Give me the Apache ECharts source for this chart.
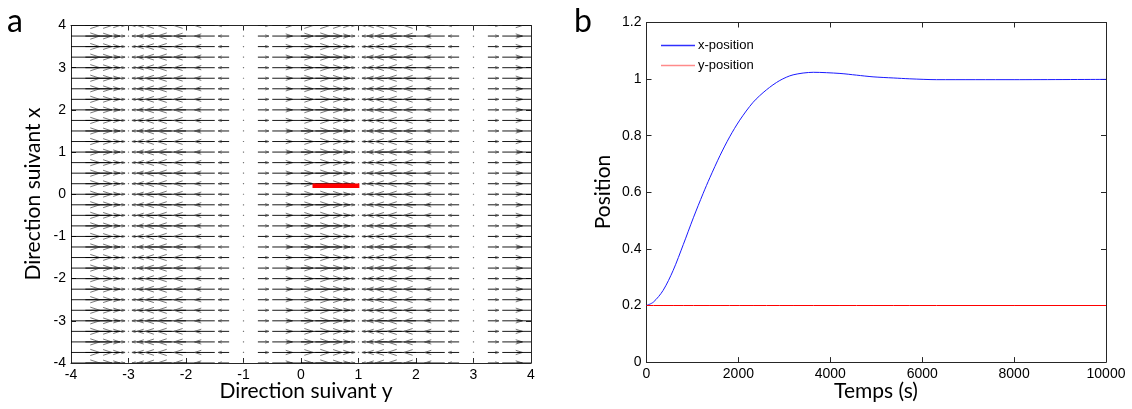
<!DOCTYPE html>
<html>
<head>
<meta charset="utf-8">
<script src="https://cdn.jsdelivr.net/npm/echarts@6/dist/echarts.min.js"></script>
<style>
html,body{margin:0;padding:0;background:#fff;}
#c{width:1132px;height:409px;}
</style>
</head>
<body>
<div id="c"></div>
<script>
// ---- Panel a: vector field (quiver), tails on a regular grid ----
const quiverColX = [-4,-3.75,-3.5,-3.25,-3,-2.75,-2.5,-2.25,-2,-1.75,-1.5,-1.25,-1,-0.75,-0.5,-0.25,0,0.25,0.5,0.75,1,1.25,1.5,1.75,2,2.25,2.5,2.75,3,3.25,3.5,3.75,4];
const quiverRowY = [-4,-3.75,-3.5,-3.25,-3,-2.75,-2.5,-2.25,-2,-1.75,-1.5,-1.25,-1,-0.75,-0.5,-0.25,0,0.25,0.5,0.75,1,1.25,1.5,1.75,2,2.25,2.5,2.75,3,3.25,3.5,3.75,4];
// horizontal component of each arrow, per column
const quiverU = [0.50,0.46,0.35,0.19,0,-0.19,-0.35,-0.46,-0.50,-0.46,-0.35,-0.19,0,0.19,0.35,0.46,0.50,0.46,0.35,0.19,0,-0.19,-0.35,-0.46,-0.50,-0.46,-0.35,-0.19,0,0.19,0.35,0.46,0.50];
// vertical component (all rows are horizontal arrows)
const quiverV = 0;

// ---- Panel b: position vs time ----
const timeS     = [0, 150, 360, 580, 800, 1020, 1230, 1380, 1600, 1810, 2030, 2320, 2610, 2900, 3190, 3630, 4210, 4570, 4930, 5370, 5730, 6310, 8000, 10000];
const xPosition = [0.2, 0.212, 0.253, 0.324, 0.415, 0.51, 0.595, 0.652, 0.73, 0.796, 0.855, 0.918, 0.962, 0.995, 1.015, 1.024, 1.020, 1.014, 1.008, 1.004, 1.001, 0.998, 0.998, 0.999];
const yPosition = [0.2, 0.2, 0.2, 0.2, 0.2, 0.2, 0.2, 0.2, 0.2, 0.2, 0.2, 0.2, 0.2, 0.2, 0.2, 0.2, 0.2, 0.2, 0.2, 0.2, 0.2, 0.2, 0.2, 0.2];

// tick labels
const ticksA = [-4,-3,-2,-1,0,1,2,3,4];
const ticksTime = [0,2000,4000,6000,8000,10000];
const ticksPos = [0,0.2,0.4,0.6,0.8,1,1.2];

const seriesNames = ['x-position','y-position'];

// ---- build quiver table ----
const quiverData = [];
quiverRowY.forEach(function (y) {
  quiverColX.forEach(function (x, j) {
    quiverData.push([x, y, quiverU[j], quiverV]);
  });
});

const chart = echarts.init(document.getElementById('c'), null, {renderer: 'canvas'});

const tickFont = {fontFamily: 'Liberation Sans, Arial, sans-serif', fontSize: 14, color: '#000'};
const axLine = {show: true, onZero: false, lineStyle: {color: '#262626', width: 1}};
const axTick = {show: true, inside: true, length: 5, lineStyle: {color: '#262626', width: 1}};

function mkAxis(grid, ticks, pos, labels, margin) {
  return {
    type: 'value', gridIndex: grid, position: pos,
    min: ticks[0], max: ticks[ticks.length - 1], interval: ticks[1] - ticks[0],
    axisLine: axLine, axisTick: axTick, splitLine: {show: false},
    axisLabel: labels ? Object.assign({margin: margin, formatter: function (v) { return String(+v.toFixed(2)); }}, tickFont) : {show: false}
  };
}

function renderArrow(params, api) {
  const x0 = api.value(0), y0 = api.value(1), u = api.value(2), v = api.value(3);
  const p0 = api.coord([x0, y0]);
  const p1 = api.coord([x0 + u, y0 + v]);
  const dx = p1[0] - p0[0], dy = p1[1] - p0[1];
  const L = Math.hypot(dx, dy);
  if (L < 0.5) {
    return {type: 'rect', shape: {x: p0[0] - 0.6, y: p0[1] - 0.6, width: 1.2, height: 1.2}, style: {fill: '#777'}};
  }
  const ux = dx / L, uy = dy / L;
  const hl = 0.33 * L, hw = 0.33 * hl;
  const bx = p1[0] - ux * hl, by = p1[1] - uy * hl;
  return {
    type: 'group',
    children: [
      {type: 'line', shape: {x1: p0[0], y1: p0[1], x2: p1[0], y2: p1[1]}, style: {stroke: '#000', lineWidth: 0.9}},
      {type: 'polyline', shape: {points: [[bx - uy * hw, by + ux * hw], [p1[0], p1[1]], [bx + uy * hw, by - ux * hw]]},
       style: {stroke: '#555', lineWidth: 0.8, fill: null}}
    ]
  };
}

const titleFont = 'Lato, "Open Sans", sans-serif';

const option = {
  animation: false,
  backgroundColor: '#fff',
  grid: [
    {left: 71, top: 25.5, width: 460, height: 337.5},
    {left: 646.5, top: 22.5, width: 459.5, height: 339.6}
  ],
  xAxis: [
    mkAxis(0, ticksA, 'bottom', true, 5),
    mkAxis(0, ticksA, 'top', false),
    mkAxis(1, ticksTime, 'bottom', true, 5),
    mkAxis(1, ticksTime, 'top', false)
  ],
  yAxis: [
    mkAxis(0, ticksA, 'left', true, 5),
    mkAxis(0, ticksA, 'right', false),
    mkAxis(1, ticksPos, 'left', true, 5),
    mkAxis(1, ticksPos, 'right', false)
  ],
  legend: {
    show: true,
    orient: 'vertical',
    left: 656, top: 34,
    itemWidth: 34, itemHeight: 1.5, itemGap: 7,
    icon: 'rect',
    textStyle: {fontFamily: 'Liberation Sans, Arial, sans-serif', fontSize: 13, color: '#000', padding: [0, 0, 0, -2]},
    data: [
      {name: seriesNames[0], itemStyle: {color: '#3030ff'}},
      {name: seriesNames[1], itemStyle: {color: '#ff8a8a'}}
    ]
  },
  series: [
    {
      type: 'custom', xAxisIndex: 0, yAxisIndex: 0, silent: true, clip: true,
      renderItem: renderArrow,
      encode: {x: 0, y: 1},
      data: quiverData
    },
    {
      type: 'line', xAxisIndex: 0, yAxisIndex: 0, silent: true,
      showSymbol: false, smooth: false,
      lineStyle: {color: '#ff0000', width: 4.5, cap: 'butt'},
      data: xPosition.map(function (x, i) { return [x, yPosition[i]]; }),
      z: 5
    },
    {
      name: seriesNames[0], type: 'line', xAxisIndex: 2, yAxisIndex: 2, silent: true,
      showSymbol: false, smooth: 0.3,
      lineStyle: {color: '#1a1aff', width: 1},
      itemStyle: {color: '#0000ff'},
      data: timeS.map(function (t, i) { return [t, xPosition[i]]; })
    },
    {
      name: seriesNames[1], type: 'line', xAxisIndex: 2, yAxisIndex: 2, silent: true,
      showSymbol: false,
      lineStyle: {color: '#ff0000', width: 1},
      itemStyle: {color: '#ff0000'},
      data: timeS.map(function (t, i) { return [t, yPosition[i]]; })
    }
  ],
  graphic: [
    {type: 'text', x: 15, y: 22, style: {text: 'a', font: '32px ' + titleFont, fill: '#000', align: 'center', verticalAlign: 'middle'}},
    {type: 'text', x: 583, y: 22, style: {text: 'b', font: '32px ' + titleFont, fill: '#000', align: 'center', verticalAlign: 'middle'}},
    {type: 'text', x: 33, y: 194, rotation: Math.PI / 2, style: {text: 'Direction suivant x', font: '21px ' + titleFont, fill: '#000', align: 'center', verticalAlign: 'middle'}},
    {type: 'text', x: 306, y: 391, style: {text: 'Direction suivant y', font: '21px ' + titleFont, fill: '#000', align: 'center', verticalAlign: 'middle'}},
    {type: 'text', x: 603, y: 192, rotation: Math.PI / 2, style: {text: 'Position', font: '21px ' + titleFont, fill: '#000', align: 'center', verticalAlign: 'middle'}},
    {type: 'text', x: 876, y: 391, style: {text: 'Temps (s)', font: '21px ' + titleFont, fill: '#000', align: 'center', verticalAlign: 'middle'}}
  ]
};

chart.setOption(option);
</script>
</body>
</html>
